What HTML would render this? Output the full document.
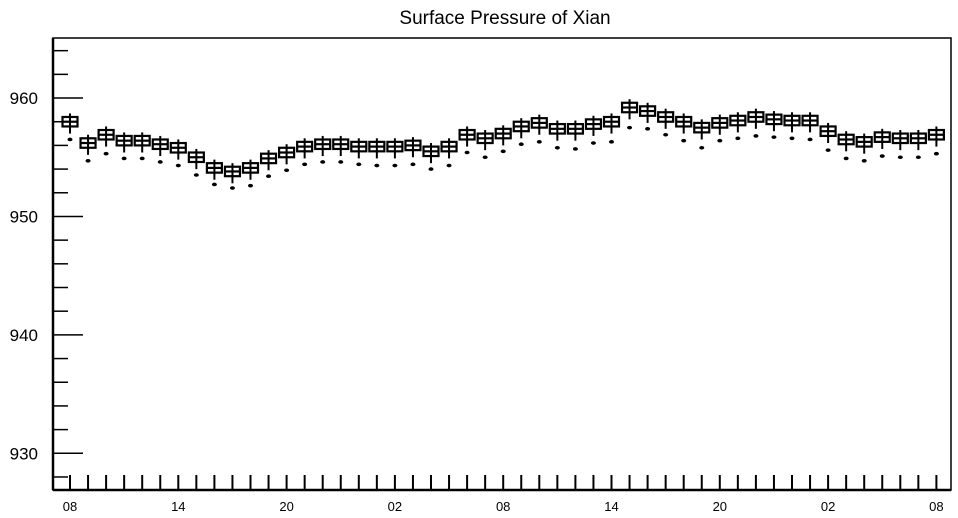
<!DOCTYPE html>
<html><head><meta charset="utf-8"><style>
body{margin:0;background:#fff;}
svg{display:block;font-family:"Liberation Sans",Arial,sans-serif;}
</style></head><body>
<svg id="chart" width="958" height="518" viewBox="0 0 958 518">
<text x="505" y="24" text-anchor="middle" font-size="19">Surface Pressure of Xian</text>
<g id="axes"></g>
<g id="boxes"></g>
</svg>
<script>
const xLabels = ["08","14","20","02","08","14","20","02","08"];
const yTicks = [930,940,950,960];
const median = [958.0,956.2,956.9,956.4,956.4,956.1,955.8,955.0,954.1,953.8,954.1,954.9,955.4,955.9,956.1,956.1,955.9,955.9,955.9,956.0,955.5,955.9,956.9,956.6,957.0,957.6,957.9,957.4,957.4,957.8,958.0,959.2,958.9,958.4,958.0,957.5,957.9,958.1,958.4,958.2,958.1,958.1,957.2,956.5,956.3,956.7,956.6,956.6,956.9];
const q3 = [958.4,956.6,957.3,956.8,956.8,956.5,956.2,955.4,954.5,954.2,954.5,955.3,955.8,956.3,956.5,956.5,956.3,956.3,956.3,956.4,955.9,956.3,957.3,957.0,957.4,958.0,958.3,957.8,957.8,958.2,958.4,959.6,959.3,958.8,958.4,957.9,958.3,958.5,958.8,958.6,958.5,958.5,957.6,956.9,956.7,957.1,957.0,957.0,957.3];
const q1 = [957.6,955.8,956.5,956.0,956.0,955.7,955.4,954.6,953.7,953.4,953.7,954.5,955.0,955.5,955.7,955.7,955.5,955.5,955.5,955.6,955.1,955.5,956.5,956.2,956.6,957.2,957.5,957.0,957.0,957.4,957.6,958.8,958.5,958.0,957.6,957.1,957.5,957.7,958.0,957.8,957.7,957.7,956.8,956.1,955.9,956.3,956.2,956.2,956.5];
const whiskerHi = [958.7,956.9,957.6,957.1,957.1,956.8,956.5,955.7,954.8,954.5,954.8,955.6,956.1,956.6,956.8,956.8,956.6,956.6,956.6,956.7,956.2,956.6,957.6,957.3,957.7,958.3,958.6,958.1,958.1,958.5,958.7,959.9,959.6,959.1,958.7,958.2,958.6,958.8,959.1,958.9,958.8,958.8,957.9,957.2,957.0,957.4,957.3,957.3,957.6];
const whiskerLo = [957.0,955.2,955.9,955.4,955.4,955.1,954.8,954.0,953.1,952.8,953.1,953.9,954.4,954.9,955.1,955.1,954.9,954.9,954.9,955.0,954.5,954.9,955.9,955.6,956.0,956.6,956.9,956.4,956.4,956.8,957.0,958.2,957.9,957.4,957.0,956.5,956.9,957.1,957.4,957.2,957.1,957.1,956.2,955.5,955.3,955.7,955.6,955.6,955.9];
const outlier = [956.5,954.7,955.3,954.9,954.9,954.6,954.3,953.5,952.7,952.4,952.6,953.4,953.9,954.4,954.6,954.6,954.4,954.3,954.3,954.4,954.0,954.3,955.4,955.0,955.5,956.1,956.3,955.8,955.7,956.2,956.3,957.5,957.4,956.9,956.4,955.8,956.4,956.6,956.8,956.7,956.6,956.5,955.6,954.9,954.7,955.1,955.0,955.0,955.3];

const NS="http://www.w3.org/2000/svg";
const L=53,R=951,T=38,B=490,yMin=926.9,yMax=965.07;
const y=v=>T+(yMax-v)/(yMax-yMin)*(B-T);
const x0=70,dx=18.05;
const x=i=>x0+i*dx;
function mk(tag,attrs,parent){const e=document.createElementNS(NS,tag);for(const k in attrs)e.setAttribute(k,attrs[k]);parent.appendChild(e);return e;}
const ax=document.getElementById('axes'),bx=document.getElementById('boxes');
let e=mk('rect',{x:L,y:T,width:R-L,height:B-T,fill:'none',stroke:'#000','stroke-width':1.5},ax);

e=mk('line',{x1:L,y1:T,x2:L,y2:B,stroke:'#000','stroke-width':2.5},ax);

e=mk('line',{x1:L,y1:B,x2:R,y2:B,stroke:'#000','stroke-width':2.5},ax);

for(let v=928;v<=964;v+=2){
  const major=v%10===0;
  e=mk('line',{x1:L,y1:y(v),x2:L+(major?30:15),y2:y(v),stroke:'#000','stroke-width':1.5},ax);
  
}
yTicks.forEach(v=>{
  const t=mk('text',{x:38,y:y(v)+6,'text-anchor':'end','font-size':17},ax);t.textContent=v;
  
});
for(let i=0;i<median.length;i++){
  e=mk('line',{x1:x(i),y1:B,x2:x(i),y2:B-15,stroke:'#000','stroke-width':2},ax);
  
}
xLabels.forEach((s,k)=>{
  const t=mk('text',{x:x(k*6),y:511,'text-anchor':'middle','font-size':13},ax);t.textContent=s;
  
});
for(let i=0;i<median.length;i++){
  const g=mk('g',{},bx);
  
  const cx=x(i),w=7.5;
  mk('line',{x1:cx,y1:y(whiskerHi[i]),x2:cx,y2:y(whiskerLo[i]),stroke:'#000','stroke-width':2},g);
  mk('rect',{x:cx-w,y:y(q3[i]),width:2*w,height:y(q1[i])-y(q3[i]),fill:'#fff',stroke:'#000','stroke-width':2.2},g);
  mk('line',{x1:cx,y1:y(q3[i]),x2:cx,y2:y(q1[i]),stroke:'#000','stroke-width':2},g);
  mk('line',{x1:cx-w,y1:y(median[i]),x2:cx+w,y2:y(median[i]),stroke:'#000','stroke-width':2.2},g);
  mk('ellipse',{cx:cx,cy:y(outlier[i]),rx:2.5,ry:1.8,fill:'#000'},g);
}
</script>
</body></html>
